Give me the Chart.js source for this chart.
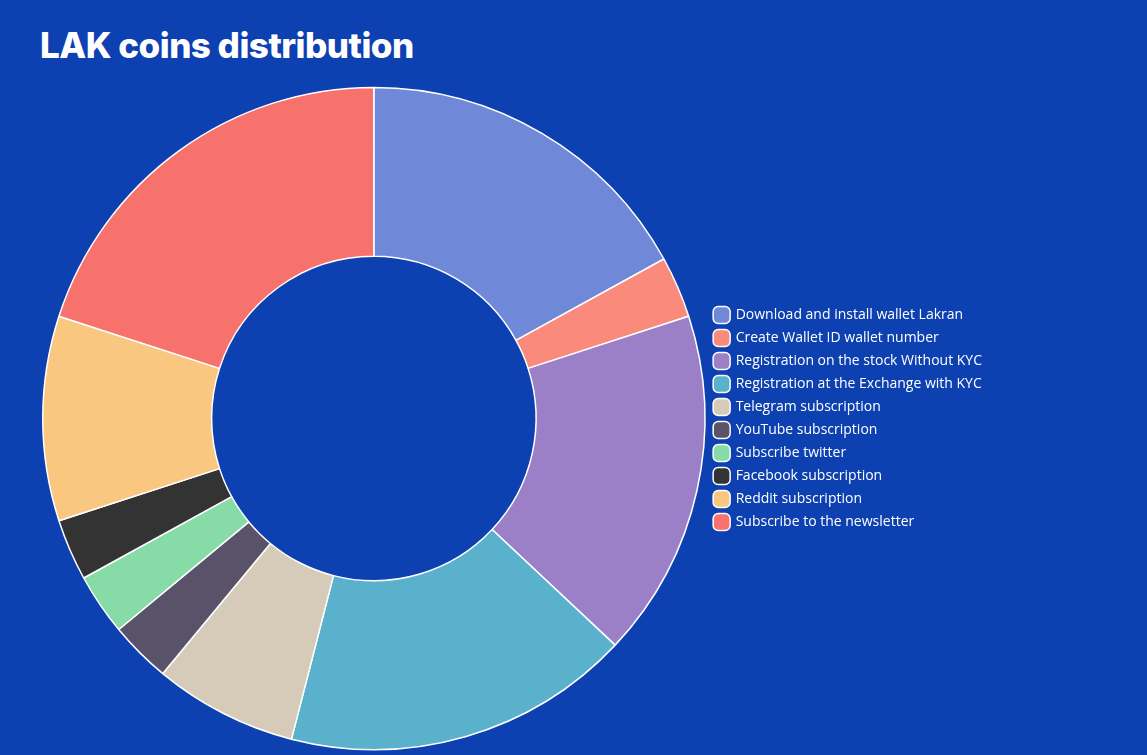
<!DOCTYPE html>
<html><head><meta charset="utf-8">
<script src="https://cdn.jsdelivr.net/npm/chart.js@4"></script>
<style>
html,body{margin:0;padding:0;background:#0d40b1;width:1147px;height:755px;overflow:hidden;}
h1{position:absolute;left:40px;top:24px;margin:0;color:#fff;font-family:Inter,"Open Sans",sans-serif;font-weight:800;font-size:35px;letter-spacing:-0.5px;}
#wrap{position:absolute;left:42px;top:86px;width:950px;height:665px;}
</style></head><body>
<h1>LAK coins distribution</h1>
<div id="wrap"><canvas id="c"></canvas></div>
<script>
const categories=["Download and install wallet Lakran","Create Wallet ID wallet number","Registration on the stock Without KYC","Registration at the Exchange with KYC","Telegram subscription","YouTube subscription","Subscribe twitter","Facebook subscription","Reddit subscription","Subscribe to the newsletter"];
const values=[17,3,17,17,7,3,3,3,10,20];
const colors=["#6f88d8","#fa8a7c","#9b80c8","#59b1cc","#d6cbb8","#5a5268","#86dba6","#333333","#f9c77f","#f7726c"];
new Chart(document.getElementById('c'),{
 type:'doughnut',
 data:{labels:categories,datasets:[{data:values,backgroundColor:colors,borderColor:'#ffffff',borderWidth:1.5}]},
 options:{responsive:true,maintainAspectRatio:false,animation:false,cutout:'49%',
  layout:{padding:0},
  plugins:{tooltip:{enabled:false},
   legend:{position:'right',align:'center',
    labels:{color:'#ffffff',font:{family:'"Open Sans",Lato,sans-serif',size:14},boxWidth:18,boxHeight:18,padding:9,usePointStyle:true,pointStyle:'rectRounded'}}}}
});
</script></body></html>
